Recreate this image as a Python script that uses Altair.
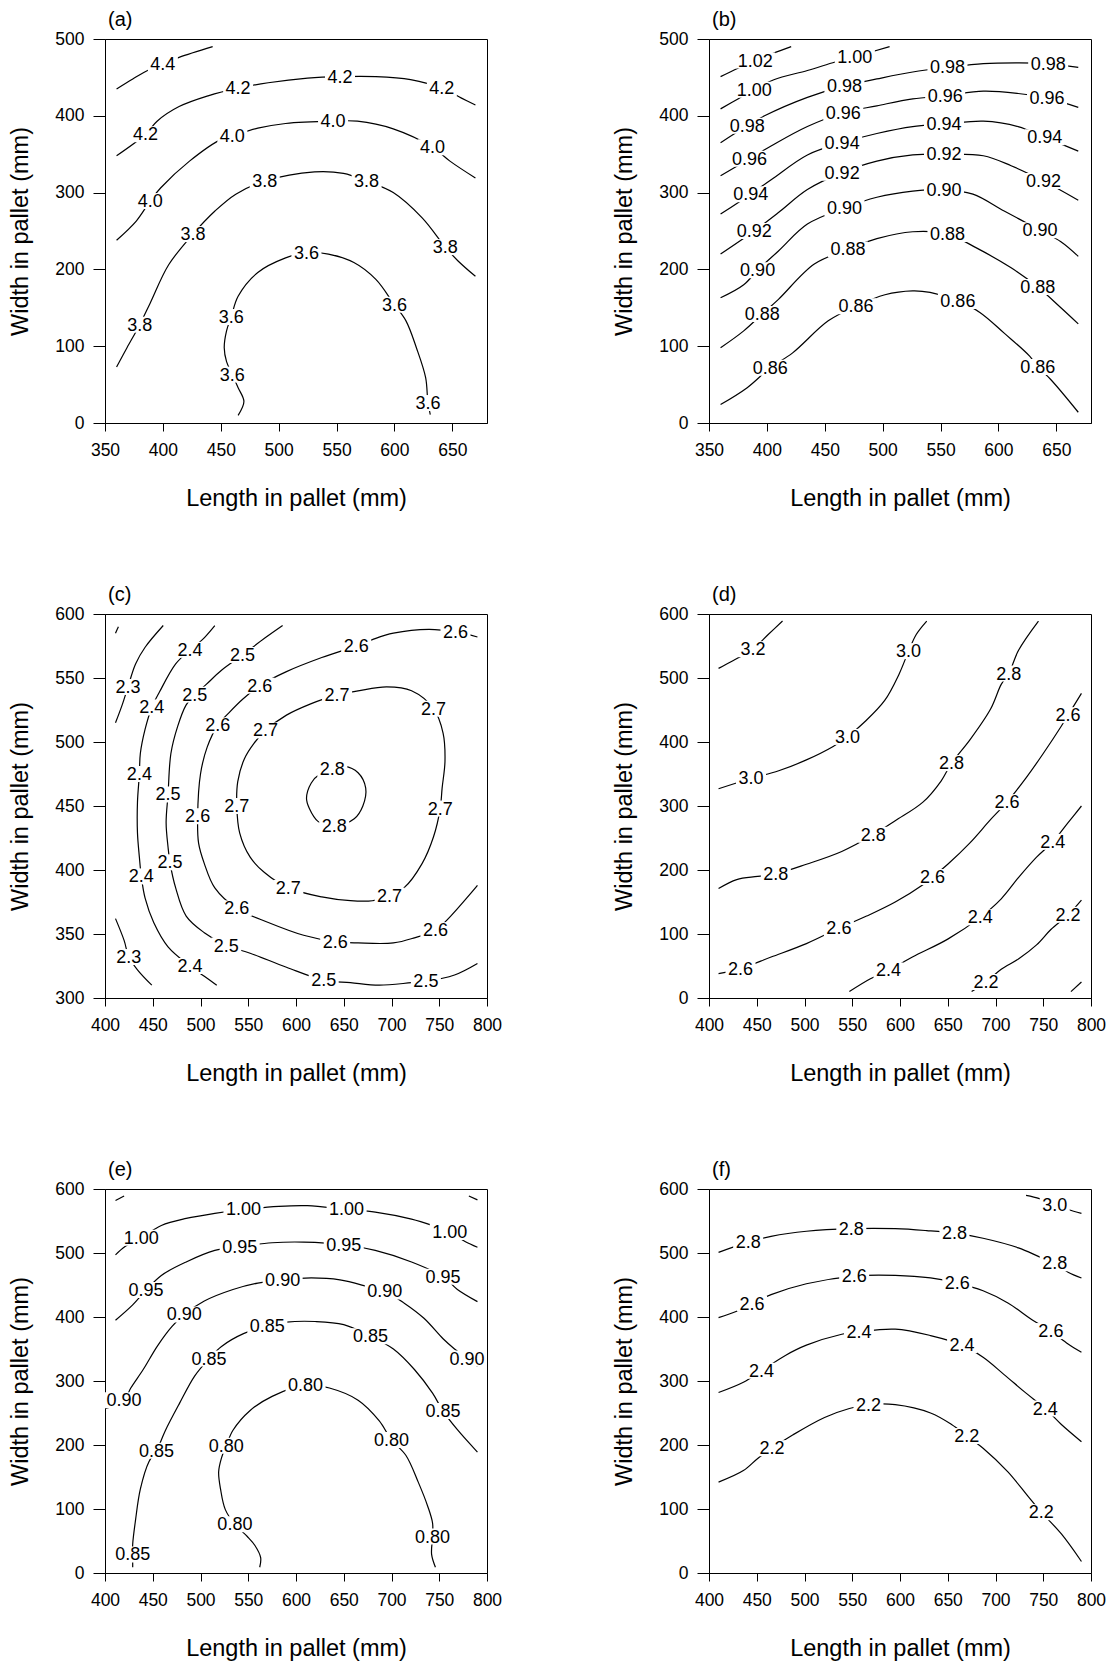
import altair as alt
import pandas as pd

FONT = "Liberation Sans"

# ---------------- panel (a) ----------------
A_LINES = [
    ("4.4", [(360, 435), (374, 448), (388, 460), (400, 467), (414, 476), (443, 490)]),
    ("4.2", [(360, 348), (385, 376), (395, 393), (414, 412), (439, 426), (465, 436), (491, 443),
             (525, 449), (553, 451), (584, 451), (614, 447), (641, 436), (658, 423), (670, 414)]),
    ("4.0", [(360, 238), (377, 263), (389, 289), (398, 306), (423, 341), (451, 370), (460, 374),
             (482, 384), (506, 390), (547, 393), (568, 393), (599, 383), (633, 359), (648, 341), (670, 319)]),
    ("3.8", [(360, 73), (369, 98), (380, 128), (389, 156), (405, 206), (426, 246), (445, 276),
             (463, 298), (488, 315), (531, 327), (556, 325), (576, 315), (599, 300), (624, 267),
             (644, 229), (655, 211), (670, 191)]),
    ("3.6", [(465, 10), (470, 28), (465, 46), (460, 63), (455, 80), (453, 98), (455, 120), (459, 138),
             (465, 165), (482, 196), (506, 215), (524, 222), (543, 220), (565, 209), (584, 187),
             (600, 154), (610, 133), (619, 98), (627, 59), (629, 26), (631, 11)]),
]
A_LABELS = [
    ("4.4", 400, 467),
    ("4.2", 385, 376), ("4.2", 465, 436), ("4.2", 553, 451), ("4.2", 641, 436),
    ("4.0", 389, 289), ("4.0", 460, 374), ("4.0", 547, 393), ("4.0", 633, 359),
    ("3.8", 380, 128), ("3.8", 426, 246), ("3.8", 488, 315), ("3.8", 576, 315), ("3.8", 644, 229),
    ("3.6", 460, 63), ("3.6", 459, 138), ("3.6", 524, 222), ("3.6", 600, 154), ("3.6", 629, 26),
]

# ---------------- panel (b) ----------------
B_LINES = [
    ("1.02", [(360, 451), (375, 462), (390, 472), (405, 481), (421, 490)]),
    ("1.00", [(360, 409), (375, 422), (389, 434), (406, 447), (435, 459), (459, 470), (476, 477), (506, 490)]),
    ("0.98", [(360, 365), (383, 387), (398, 400), (435, 424), (467, 439), (495, 448), (526, 457),
              (556, 463), (587, 468), (617, 469), (643, 468), (669, 463)]),
    ("0.96", [(360, 322), (385, 344), (404, 361), (435, 386), (466, 404), (495, 413), (526, 422),
              (554, 426), (587, 432), (617, 429), (642, 423), (669, 411)]),
    ("0.94", [(360, 272), (386, 298), (404, 317), (435, 349), (465, 365), (495, 377), (526, 386),
              (553, 389), (587, 393), (617, 386), (640, 372), (669, 354)]),
    ("0.92", [(360, 220), (389, 250), (410, 274), (435, 304), (465, 326), (495, 341), (526, 349),
              (553, 350), (587, 348), (611, 335), (639, 315), (669, 290)]),
    ("0.90", [(360, 163), (380, 180), (392, 199), (410, 224), (435, 259), (467, 280), (495, 294),
              (526, 302), (553, 304), (578, 298), (605, 276), (636, 251), (654, 236), (669, 217)]),
    ("0.88", [(360, 98), (380, 120), (396, 142), (410, 161), (441, 207), (470, 226), (495, 240),
              (526, 249), (556, 246), (581, 228), (611, 202), (634, 177), (654, 150), (669, 129)]),
    ("0.86", [(360, 24), (383, 46), (403, 72), (422, 91), (453, 133), (477, 152), (502, 167),
              (526, 172), (541, 170), (565, 159), (584, 144), (605, 117), (627, 87), (634, 73),
              (645, 57), (669, 14)]),
]
B_LABELS = [
    ("1.02", 390, 472), ("1.00", 389, 434), ("1.00", 476, 477),
    ("0.98", 383, 387), ("0.98", 467, 439), ("0.98", 556, 463), ("0.98", 643, 468),
    ("0.96", 385, 344), ("0.96", 466, 404), ("0.96", 554, 426), ("0.96", 642, 423),
    ("0.94", 386, 298), ("0.94", 465, 365), ("0.94", 553, 389), ("0.94", 640, 372),
    ("0.92", 389, 250), ("0.92", 465, 326), ("0.92", 553, 350), ("0.92", 639, 315),
    ("0.90", 392, 199), ("0.90", 467, 280), ("0.90", 553, 304), ("0.90", 636, 251),
    ("0.88", 396, 142), ("0.88", 470, 226), ("0.88", 556, 246), ("0.88", 634, 177),
    ("0.86", 403, 72), ("0.86", 477, 152), ("0.86", 565, 159), ("0.86", 634, 73),
]

# ---------------- panel (c) ----------------
C_LINES = [
    ("2.3", [(411, 585), (414, 590)]),
    ("2.3", [(411, 515), (418, 529), (424, 543), (432, 561), (442, 574), (461, 591)]),
    ("2.3", [(411, 362), (420, 345), (425, 332), (434, 322), (449, 310)]),
    ("2.4", [(515, 591), (502, 580), (489, 572), (474, 561), (457, 539), (449, 527), (442, 510),
             (437, 491), (436, 475), (434, 453), (434, 429), (436, 410), (438, 395), (442, 378),
             (451, 359), (466, 340), (489, 325), (504, 317), (517, 310)]),
    ("2.5", [(586, 591), (567, 581), (544, 568), (522, 556), (506, 545), (494, 537), (485, 529),
             (476, 512), (469, 491), (466, 459), (464, 437), (466, 418), (468, 406), (474, 386),
             (485, 364), (504, 351), (527, 341), (552, 335), (590, 324), (629, 314), (657, 312),
             (687, 310), (721, 312), (736, 313), (766, 318), (790, 327)]),
    ("2.6", [(790, 582), (767, 586), (739, 588), (702, 585), (680, 580), (663, 575), (627, 566),
             (590, 555), (562, 544), (545, 534), (530, 523), (518, 513), (507, 496), (500, 475),
             (497, 442), (498, 421), (504, 405), (515, 386), (538, 370), (571, 359), (608, 349),
             (641, 344), (665, 343), (702, 343), (724, 347), (746, 353), (762, 364), (790, 388)]),
    ("2.7", [(643, 537), (665, 540), (695, 543), (721, 540), (744, 526), (754, 507), (756, 485),
             (753, 464), (751, 448), (744, 426), (732, 405), (713, 386), (698, 380), (680, 376),
             (657, 376), (627, 379), (592, 386), (567, 398), (552, 410), (541, 429), (538, 450),
             (539, 469), (546, 487), (556, 499), (568, 509), (590, 521), (616, 530), (643, 537)]),
    ("2.8", [(638, 479), (651, 481), (665, 476), (673, 464), (670, 450), (661, 440), (640, 434),
             (623, 438), (614, 448), (611, 456), (616, 468), (625, 475), (638, 479)]),
]
C_LABELS = [
    ("2.3", 424, 543), ("2.3", 425, 332),
    ("2.4", 489, 572), ("2.4", 449, 527), ("2.4", 436, 475), ("2.4", 438, 395), ("2.4", 489, 325),
    ("2.5", 544, 568), ("2.5", 494, 537), ("2.5", 466, 459), ("2.5", 468, 406), ("2.5", 527, 341),
    ("2.5", 629, 314), ("2.5", 736, 313),
    ("2.6", 767, 586), ("2.6", 663, 575), ("2.6", 562, 544), ("2.6", 518, 513), ("2.6", 497, 442),
    ("2.6", 538, 370), ("2.6", 641, 344), ("2.6", 746, 353),
    ("2.7", 643, 537), ("2.7", 568, 509), ("2.7", 538, 450), ("2.7", 592, 386), ("2.7", 698, 380),
    ("2.7", 751, 448), ("2.7", 744, 526),
    ("2.8", 638, 479), ("2.8", 640, 434),
]

# ---------------- panel (d) ----------------
D_LINES = [
    ("3.2", [(410, 515), (425, 527), (446, 545), (462, 568), (477, 589)]),
    ("3.0", [(410, 327), (444, 343), (473, 355), (502, 372), (530, 393), (545, 408), (562, 430),
             (584, 465), (599, 506), (609, 542), (617, 568), (628, 589)]),
    ("2.8", [(410, 171), (429, 185), (451, 190), (470, 194), (502, 209), (539, 229), (572, 255),
             (595, 277), (624, 306), (643, 339), (654, 367), (673, 403), (695, 452), (706, 490),
             (714, 507), (724, 543), (745, 589)]),
    ("2.6", [(410, 38), (433, 46), (465, 64), (502, 85), (536, 109), (565, 128), (595, 150),
             (624, 177), (634, 189), (650, 209), (673, 242), (695, 279), (712, 306), (732, 344),
             (750, 382), (769, 425), (776, 442), (790, 476)]),
    ("2.4", [(547, 10), (569, 30), (588, 43), (613, 64), (650, 92), (684, 126), (706, 155),
             (724, 188), (743, 220), (760, 244), (776, 274), (790, 300)]),
    ("2.2", [(675, 10), (690, 25), (706, 45), (724, 61), (743, 83), (758, 107), (776, 130), (790, 153)]),
    ("2.0", [(779, 10), (790, 25)]),
]
D_LABELS = [
    ("3.2", 446, 545),
    ("3.0", 444, 343), ("3.0", 545, 408), ("3.0", 609, 542),
    ("2.8", 470, 194), ("2.8", 572, 255), ("2.8", 654, 367), ("2.8", 714, 507),
    ("2.6", 433, 46), ("2.6", 536, 109), ("2.6", 634, 189), ("2.6", 712, 306), ("2.6", 776, 442),
    ("2.4", 588, 43), ("2.4", 684, 126), ("2.4", 760, 244),
    ("2.2", 690, 25), ("2.2", 776, 130),
]

# ---------------- panel (e) ----------------
E_LINES = [
    ("1.05", [(411, 582), (420, 589)]),
    ("1.05", [(781, 589), (790, 583)]),
    ("1.00", [(411, 497), (421, 510), (438, 524), (459, 543), (485, 554), (515, 562), (545, 568),
              (582, 573), (612, 574), (653, 568), (683, 564), (721, 553), (743, 543), (761, 533),
              (777, 518), (790, 509)]),
    ("0.95", [(411, 395), (429, 419), (443, 442), (459, 465), (485, 486), (515, 504), (541, 510),
              (575, 516), (608, 517), (650, 513), (683, 504), (721, 486), (754, 463), (769, 443),
              (790, 424)]),
    ("0.90", [(401, 257), (420, 270), (427, 289), (440, 318), (455, 355), (470, 385), (483, 404),
              (504, 425), (534, 443), (560, 453), (586, 458), (616, 461), (646, 458), (676, 447),
              (693, 440), (713, 422), (734, 398), (754, 366), (766, 350), (779, 335), (790, 323)]),
    ("0.85", [(429, 9), (429, 29), (429, 45), (432, 83), (437, 131), (446, 174), (454, 191),
              (463, 222), (478, 265), (494, 308), (509, 335), (522, 354), (545, 374), (570, 386),
              (590, 392), (620, 393), (650, 388), (678, 370), (702, 350), (724, 318), (743, 281),
              (754, 253), (769, 224), (790, 189)]),
    ("0.80", [(562, 9), (563, 24), (557, 43), (549, 57), (536, 76), (526, 99), (521, 131),
              (519, 158), (522, 180), (527, 199), (534, 223), (552, 254), (575, 276), (610, 294),
              (635, 289), (665, 270), (687, 238), (700, 208), (715, 184), (728, 142), (738, 104),
              (743, 78), (743, 57), (742, 29), (746, 9)]),
]
E_LABELS = [
    ("1.00", 438, 524), ("1.00", 545, 568), ("1.00", 653, 568), ("1.00", 761, 533),
    ("0.95", 443, 442), ("0.95", 541, 510), ("0.95", 650, 513), ("0.95", 754, 463),
    ("0.90", 420, 270), ("0.90", 483, 404), ("0.90", 586, 458), ("0.90", 693, 440), ("0.90", 779, 335),
    ("0.85", 429, 29), ("0.85", 454, 191), ("0.85", 509, 335), ("0.85", 570, 386), ("0.85", 678, 370),
    ("0.85", 754, 253),
    ("0.80", 536, 76), ("0.80", 527, 199), ("0.80", 610, 294), ("0.80", 700, 208), ("0.80", 743, 57),
]

# ---------------- panel (f) ----------------
F_LINES = [
    ("3.0", [(732, 590), (746, 585), (762, 575), (776, 568), (790, 562)]),
    ("2.8", [(410, 501), (441, 517), (465, 526), (502, 534), (549, 538), (595, 538), (628, 535),
             (657, 531), (687, 523), (724, 508), (746, 494), (762, 484), (776, 470), (790, 461)]),
    ("2.6", [(410, 399), (429, 409), (445, 421), (465, 435), (502, 452), (552, 464), (595, 465),
             (632, 461), (660, 453), (687, 441), (713, 422), (739, 395), (758, 378), (776, 358),
             (790, 345)]),
    ("2.4", [(410, 282), (436, 298), (455, 316), (480, 340), (502, 356), (539, 373), (557, 377),
             (595, 381), (632, 371), (665, 356), (687, 337), (709, 310), (732, 281), (752, 257),
             (769, 232), (790, 205)]),
    ("2.2", [(410, 142), (436, 160), (451, 179), (466, 195), (488, 216), (521, 243), (547, 257),
             (567, 263), (595, 263), (632, 250), (654, 232), (670, 214), (687, 195), (713, 158),
             (735, 118), (748, 95), (769, 61), (790, 18)]),
]
F_LABELS = [
    ("3.0", 762, 575),
    ("2.8", 441, 517), ("2.8", 549, 538), ("2.8", 657, 531), ("2.8", 762, 484),
    ("2.6", 445, 421), ("2.6", 552, 464), ("2.6", 660, 453), ("2.6", 758, 378),
    ("2.4", 455, 316), ("2.4", 557, 377), ("2.4", 665, 356), ("2.4", 752, 257),
    ("2.2", 466, 195), ("2.2", 567, 263), ("2.2", 670, 214), ("2.2", 748, 95),
]

# axis ranges and ticks
X_DOM_AB = [350, 680]
X_TICKS_AB = [350, 400, 450, 500, 550, 600, 650]
Y_DOM_AB = [0, 500]
Y_TICKS_AB = [0, 100, 200, 300, 400, 500]
X_DOM_CF = [400, 800]
X_TICKS_CF = [400, 450, 500, 550, 600, 650, 700, 750, 800]
Y_DOM_C = [300, 600]
Y_TICKS_C = [300, 350, 400, 450, 500, 550, 600]
Y_DOM_DF = [0, 600]
Y_TICKS_DF = [0, 100, 200, 300, 400, 500, 600]

PANELS = [
    ("(a)", A_LINES, A_LABELS, X_DOM_AB, X_TICKS_AB, Y_DOM_AB, Y_TICKS_AB),
    ("(b)", B_LINES, B_LABELS, X_DOM_AB, X_TICKS_AB, Y_DOM_AB, Y_TICKS_AB),
    ("(c)", C_LINES, C_LABELS, X_DOM_CF, X_TICKS_CF, Y_DOM_C, Y_TICKS_C),
    ("(d)", D_LINES, D_LABELS, X_DOM_CF, X_TICKS_CF, Y_DOM_DF, Y_TICKS_DF),
    ("(e)", E_LINES, E_LABELS, X_DOM_CF, X_TICKS_CF, Y_DOM_DF, Y_TICKS_DF),
    ("(f)", F_LINES, F_LABELS, X_DOM_CF, X_TICKS_CF, Y_DOM_DF, Y_TICKS_DF),
]

BOX3 = "M-1.5,-0.8L1.5,-0.8L1.5,0.8L-1.5,0.8Z"
BOX4 = "M-2.0,-0.8L2.0,-0.8L2.0,0.8L-2.0,0.8Z"

PW, PH = 382, 384


def make_panel(title, lines, labels, xdom, xticks, ydom, yticks):
    rows = []
    for i, (lev, pts) in enumerate(lines):
        for j, (x, y) in enumerate(pts):
            rows.append({"seg": i, "order": j, "level": lev, "x": x, "y": y})
    ldf = pd.DataFrame(rows)
    tdf = pd.DataFrame([{"t": t, "x": x, "y": y, "n": len(t)} for t, x, y in labels])

    xenc = alt.X("x:Q", scale=alt.Scale(domain=xdom, nice=False, zero=False),
                 axis=alt.Axis(values=xticks, title="Length in pallet (mm)", tickSize=8,
                               labelPadding=10, titlePadding=28, labelFlush=False,
                               labelOverlap=False))
    yenc = alt.Y("y:Q", scale=alt.Scale(domain=ydom, nice=False, zero=False),
                 axis=alt.Axis(values=yticks, title="Width in pallet (mm)", tickSize=12,
                               labelPadding=9, titlePadding=22, labelFlush=False,
                               labelOverlap=False))

    line = alt.Chart(ldf).mark_line(color="black", strokeWidth=1.2, interpolate="catmull-rom",
                                    clip=True).encode(
        x=xenc, y=yenc, detail="seg:N", order="order:Q")
    box3 = alt.Chart(tdf).transform_filter("datum.n == 3").mark_point(
        shape=BOX3, size=400, filled=True, color="white", opacity=1, strokeWidth=0
    ).encode(x=xenc, y=yenc)
    box4 = alt.Chart(tdf).transform_filter("datum.n == 4").mark_point(
        shape=BOX4, size=400, filled=True, color="white", opacity=1, strokeWidth=0
    ).encode(x=xenc, y=yenc)
    text = alt.Chart(tdf).mark_text(font=FONT, fontSize=18, color="black", align="center",
                                    baseline="middle", dy=1).encode(x=xenc, y=yenc, text="t:N")
    return alt.layer(line, box3, box4, text).properties(
        width=PW, height=PH,
        title=alt.TitleParams(title, anchor="start", frame="group", fontSize=20, font=FONT,
                              fontWeight="normal", color="black", offset=-16, dx=3,
                              baseline="alphabetic"))


charts = [make_panel(*p) for p in PANELS]

chart = alt.concat(*charts, columns=2, spacing={"row": 191, "column": 222}, bounds="flush").properties(
    padding={"left": 8, "top": 9, "right": 5, "bottom": 5},
    background="white",
).configure_view(stroke="black", strokeWidth=1).configure_axis(
    grid=False, domainColor="black", tickColor="black", domainWidth=1, tickWidth=1,
    labelFont=FONT, titleFont=FONT, labelFontSize=17.5, titleFontSize=23.5,
    labelColor="black", titleColor="black", titleFontWeight="normal",
)

chart.save("out.html", embed_options={"renderer": "svg", "actions": False})
